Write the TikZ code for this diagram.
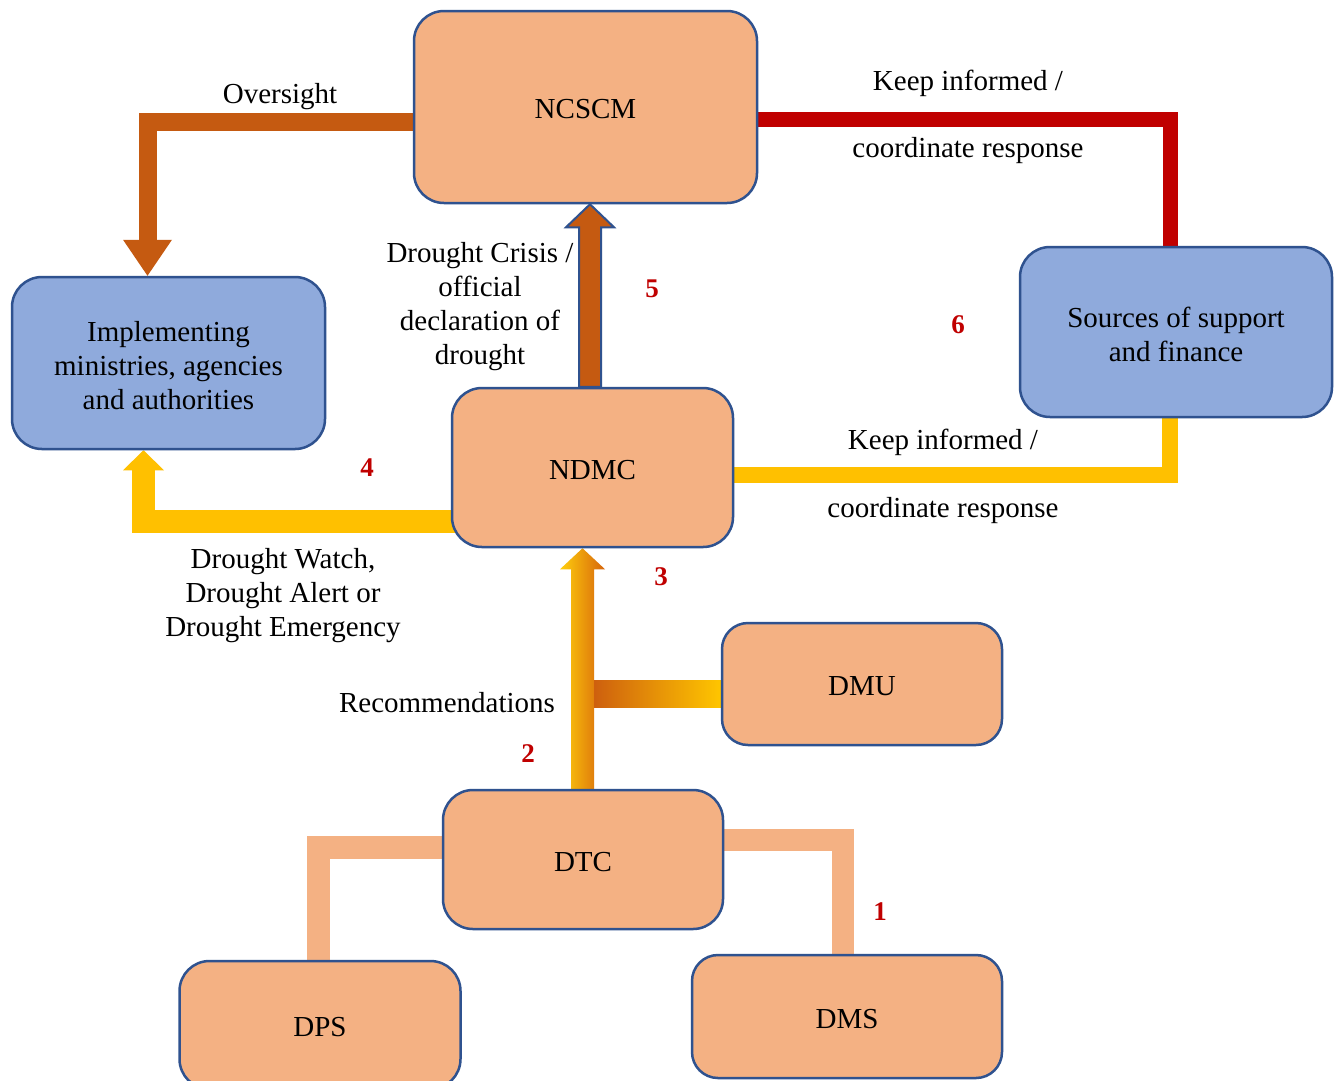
\documentclass[tikz,border=0pt]{standalone}
\usepackage{fontspec}
\setmainfont{Liberation Serif}
\usetikzlibrary{calc}
\definecolor{peach}{HTML}{F4B183}
\definecolor{bluef}{HTML}{8FAADC}
\definecolor{bord}{HTML}{2F528F}
\definecolor{ovc}{HTML}{C55A11}
\definecolor{redc}{HTML}{C00000}
\definecolor{yelc}{HTML}{FFC000}
\pgfdeclarelayer{bgwhite}
\pgfdeclarelayer{background}
\pgfsetlayers{bgwhite,background,main}
\tikzset{
  box/.style={draw=bord, line width=2.5pt, rounded corners=30pt, align=center,
    font=\fontsize{29}{34}\selectfont, inner sep=0pt},
  peachbox/.style={box, fill=peach, text height=26pt, text depth=3pt},
  bluebox/.style={box, fill=bluef},
  lbl/.style={align=center, font=\fontsize{29}{34}\selectfont, inner sep=0pt},
  num/.style={text=redc, font=\fontsize{27}{30}\selectfont\bfseries, inner sep=0pt},
}
\begin{document}
\begin{tikzpicture}[x=1pt,y=-1pt]
\clip (0,0) rectangle (1335,1080);
\begin{pgfonlayer}{bgwhite}
\fill[white] (0,0) rectangle (1335,1080);
\end{pgfonlayer}
% boxes
\node[peachbox, minimum width=343pt, minimum height=192pt] (ncscm) at (585.5,107) {NCSCM};
\node[bluebox, minimum width=313pt, minimum height=172pt, text height=92pt, text depth=0pt] (impl) at (168.5,363) {Implementing\\ministries, agencies\\and authorities};
\node[bluebox, minimum width=312pt, minimum height=170pt, text height=58pt, text depth=0pt] (src) at (1176,332) {Sources of support\\and finance};
\node[peachbox, minimum width=281pt, minimum height=159pt] (ndmc) at (592.5,467.5) {NDMC};
\node[peachbox, minimum width=280pt, minimum height=122pt, rounded corners=26pt] (dmu) at (862,684) {DMU};
\node[peachbox, minimum width=280pt, minimum height=139pt] (dtc) at (583,859.5) {DTC};
\node[peachbox, minimum width=281pt, minimum height=128pt] (dps) at (320,1025) {DPS};
\node[peachbox, minimum width=310pt, minimum height=123pt, rounded corners=26pt] (dms) at (847,1016.5) {DMS};
% connectors
\begin{pgfonlayer}{background}
% oversight
\coordinate (ovtip) at ($(impl.north)+(-21,0)$);
\draw[ovc, line width=18pt] ($(ncscm.west)+(5,15)$) -| ($(ovtip)+(0,-36)$);
\fill[ovc] ($(ovtip)+(-24.5,-36)$) -- ($(ovtip)+(24.5,-36)$) -- (ovtip) -- cycle;
% red
\draw[redc, line width=15pt] ($(ncscm.east)+(-5,12.5)$) -| ($(src.north)+(-5.5,5)$);
% yellow right
\draw[yelc, line width=16pt] ($(ndmc.east)+(-5,7.5)$) -| ($(src.south)+(-6,-5)$);
% arrow 4
\coordinate (t4) at ($(impl.south)+(-25,0)$);
\draw[yelc, line width=23pt] ($(ndmc.west)+(5,54)$) -| ($(t4)+(0,20)$);
\fill[yelc] ($(t4)+(-20.5,20)$) -- ($(t4)+(20.5,20)$) -- (t4) -- cycle;
% DTC - DPS, DTC - DMS
\draw[peach, line width=23pt] ($(dtc.west)+(5,-12)$) -| ($(dps.north)+(-2,5)$);
\draw[peach, line width=22pt] ($(dtc.east)+(-5,-20)$) -| ($(dms.north)+(-4.5,5)$);
% arrow 3 (gradient)
\coordinate (t3) at ($(ndmc.south)+(-10,0)$);
\coordinate (b3) at (t3 |- dtc.north);
\shade[left color=yellow!60!orange!95!white, right color=ovc!70!orange]
  (t3) -- ($(t3)+(22.5,21)$) -- ($(t3)+(11.5,21)$) -- ($(b3)+(11.5,0)$)
  -- ($(b3)+(-11.5,0)$) -- ($(t3)+(-11.5,21)$) -- ($(t3)+(-22.5,21)$) -- cycle;
% DMU connector (gradient)
\coordinate (dj) at ($(dmu.west)+(0,9.5)$);
\coordinate (s3r) at ($(t3)+(11.5,0)$);
\coordinate (djl) at (s3r |- dj);
\shade[left color=ovc!85!orange, right color=yellow!55!orange]
  ($(djl)+(0,-13.5)$) rectangle ($(dj)+(0,13.5)$);
% arrow 5
\coordinate (t5) at ($(ncscm.south)+(4.5,0)$);
\coordinate (b5) at (t5 |- ndmc.north);
\filldraw[fill=ovc, draw=bord, line width=2pt]
  (t5) -- ($(t5)+(24,23)$) -- ($(t5)+(11,23)$) -- ($(b5)+(11,0)$)
  -- ($(b5)+(-11,0)$) -- ($(t5)+(-11,23)$) -- ($(t5)+(-24,23)$) -- cycle;
\end{pgfonlayer}
% labels
\node[lbl] (lov) at (280,97) {Oversight};
\node[lbl] (lk1) at (968,83) {Keep informed /};
\node[lbl] (lc1) at (968,151) {coordinate response};
\node[lbl] (ldc) at (480,307) {Drought Crisis /\\official\\declaration of\\drought};
\node[lbl] (lk2) at (943,442) {Keep informed /};
\node[lbl] (lc2) at (943,511) {coordinate response};
\node[lbl] (ldw) at (283,596) {Drought Watch,\\Drought Alert or\\Drought Emergency};
\node[lbl] (lrec) at (447,703) {Recommendations};
% numbers
\node[num] (n1) at (880,912) {1};
\node[num] (n2) at (528,754) {2};
\node[num] (n3) at (661,577) {3};
\node[num] (n4) at (367,468) {4};
\node[num] (n5) at (652,289) {5};
\node[num] (n6) at (958,325) {6};
\end{tikzpicture}
\end{document}
